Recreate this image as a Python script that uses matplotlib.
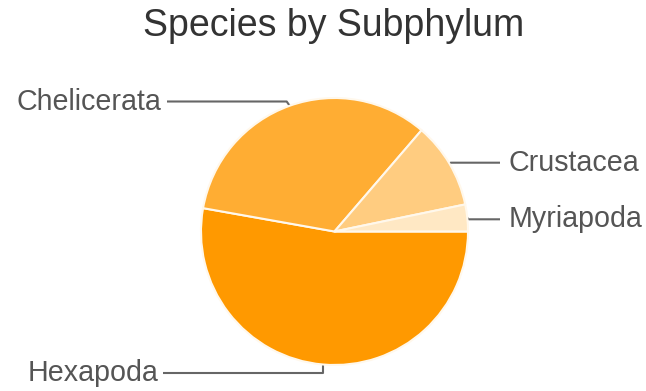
import matplotlib
matplotlib.use("Agg")
import matplotlib.pyplot as plt
import numpy as np

title = "Species by Subphylum"
categories = ["Hexapoda", "Chelicerata", "Crustacea", "Myriapoda"]
values = [52.8, 33.5, 10.45, 3.25]
colors = ["#FF9900", "#FFAD33", "#FFCC80", "#FFE8C4"]

W, H = 646, 391
fig = plt.figure(figsize=(W / 100, H / 100), dpi=100)
ax = fig.add_axes([0, 0, 1, 1])

cx, cy, r = 334.5, H - 231.5, 133.5
wedges, _ = ax.pie(values, colors=colors, startangle=0, counterclock=False,
                   center=(cx, cy), radius=r,
                   wedgeprops=dict(edgecolor="#FFF8EC", linewidth=1.5))
ax.set_xlim(0, W)
ax.set_ylim(0, H)
ax.set_aspect("equal")
ax.axis("off")

font = "Liberation Sans"
lc = "#666666"
tc = "#555555"

def anchor(w):
    a = np.deg2rad((w.theta1 + w.theta2) / 2)
    return cx + r * np.cos(a), cy + r * np.sin(a)

# label layouts: (leader kind, line y, end x of horizontal, text x, ha)
layout = {
    "Hexapoda": ("down", 373, 163, 158, "right"),
    "Chelicerata": ("up", 101.5, 167, 161, "right"),
    "Crustacea": ("right", 162.7, 500, 509, "left"),
    "Myriapoda": ("right", 219.3, 500, 509, "left"),
}
for w, name in zip(wedges, categories):
    ax_, ay_ = anchor(w)
    kind, ly, lx_end, tx, ha = layout[name]
    yy = H - ly
    if kind == "down":
        xs = [ax_, ax_, lx_end]
    elif kind == "up":
        xs = [ax_, ax_ - 3, lx_end]
    else:
        xs = [ax_, ax_ + abs(ay_ - yy), lx_end]
    ys = [ay_, yy, yy]
    ax.plot(xs, ys, color=lc, linewidth=1.5, solid_capstyle="butt", zorder=0)
    ax.text(tx, yy, name, ha=ha, va="center", fontsize=20.6, color=tc,
            family=font)

ax.text(333.5, H - 26, title, ha="center", va="center", fontsize=27,
        color="#333333", family=font)

fig.savefig("out.png", dpi=100)
